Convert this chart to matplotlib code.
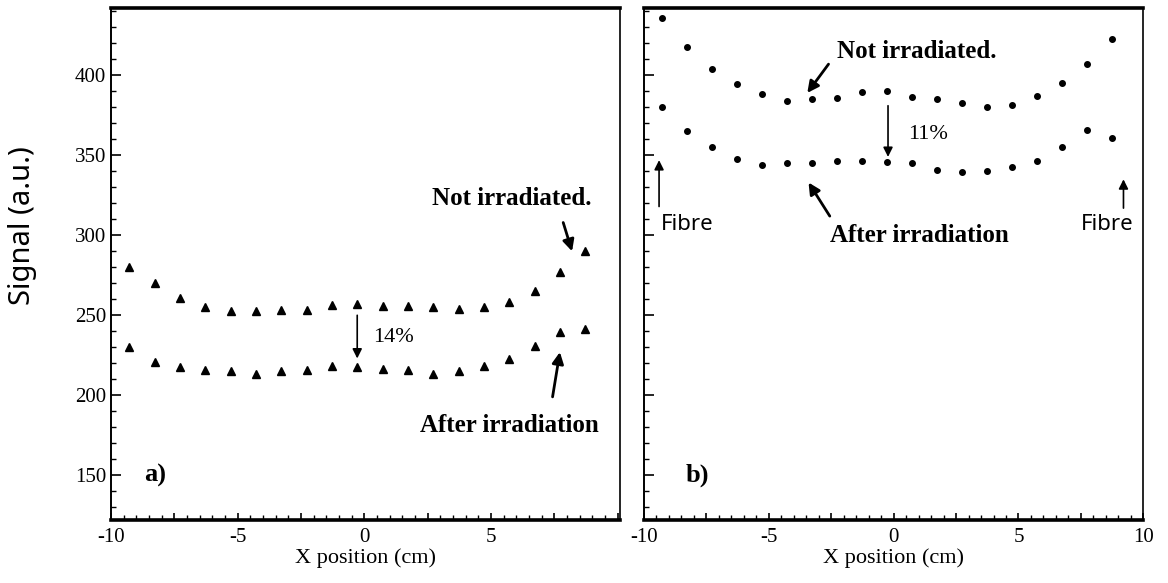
import matplotlib.pyplot as plt
from matplotlib.ticker import MultipleLocator

# scan positions along the bar (cm)
x_pos = [-9.27, -8.27, -7.27, -6.27, -5.27, -4.27, -3.27, -2.27, -1.27, -0.27,
         0.73, 1.73, 2.73, 3.73, 4.73, 5.73, 6.73, 7.73, 8.73]

# panel a)
a_not_irr = [280, 270, 260.5, 255, 252.5, 252.5, 253, 253, 256.5, 257,
             256, 256, 255, 254, 255, 258, 265, 277, 290]
a_after = [230, 221, 217.5, 216, 215, 213, 215, 216, 218.5, 217.5,
           216.5, 215.5, 213.5, 215, 218, 222.5, 231, 239.5, 241.5]

# panel b)
b_not_irr = [436, 418, 404, 394.5, 388.5, 384, 385, 386, 389.5, 390,
             386.5, 385, 383, 380.5, 381.5, 387, 395, 407, 423]
b_after = [380, 365, 355, 348, 344, 345, 345, 346.5, 346.5, 346,
           345.5, 341, 339.5, 340, 342.5, 346.5, 355.5, 366, 361]

y_ticks = [150, 200, 250, 300, 350, 400]
a_xticks = [-10, -5, 0, 5]
b_xticks = [-10, -5, 0, 5, 10]

SERIF = ['Liberation Serif', 'DejaVu Serif']
SANS = ['Noto Sans', 'DejaVu Sans']
plt.rcParams['font.family'] = SERIF

fig = plt.figure(figsize=(11.68, 5.83), dpi=100)
ax1 = fig.add_axes([0.095, 0.108, 0.436, 0.878])
ax2 = fig.add_axes([0.551, 0.108, 0.428, 0.878], sharey=ax1)


def style_axes(ax, xmax, labelled):
    ax.set_xlim(-10, xmax)
    ax.set_ylim(122, 442)
    # ticks every 2.5 cm, numbers only every 5 cm
    ticks = [-10, -7.5, -5, -2.5, 0, 2.5, 5, 7.5, 10]
    ax.set_xticks(ticks)
    ax.set_xticklabels(['%d' % t if t in labelled else '' for t in ticks])
    ax.xaxis.set_minor_locator(MultipleLocator(0.5))
    ax.yaxis.set_minor_locator(MultipleLocator(10))
    ax.tick_params(which='both', direction='in', top=False, right=False)
    ax.tick_params(which='major', length=7, width=1.2, labelsize=15)
    ax.tick_params(which='minor', length=3.5, width=1.0)
    ax.tick_params(axis='x', which='major', length=5, pad=6)
    ax.spines['bottom'].set_linewidth(2.6)
    ax.spines['top'].set_linewidth(2.6)
    ax.spines['left'].set_linewidth(1.4)
    ax.spines['right'].set_linewidth(1.2)
    ax.set_xlabel('X position (cm)', fontsize=16, labelpad=1)


style_axes(ax1, 10.1, a_xticks)
style_axes(ax2, 10.0, b_xticks)
ax1.set_yticks(y_ticks)
plt.setp(ax2.get_yticklabels(), visible=False)
ax1.set_ylabel('Signal (a.u.)', fontsize=21, family=SANS)
ax1.yaxis.set_label_coords(-0.145, 0.575)

# data points
ax1.plot(x_pos, a_not_irr, ls='none', marker='^', ms=6, color='k')
ax1.plot(x_pos, a_after, ls='none', marker='^', ms=6, color='k')
ax2.plot(x_pos, b_not_irr, ls='none', marker='o', ms=4, color='k')
ax2.plot(x_pos, b_after, ls='none', marker='o', ms=4, color='k')

bold_arrow = dict(arrowstyle='-|>', lw=2.0, color='k', mutation_scale=17,
                  shrinkA=0, shrinkB=0)
thin_arrow = dict(arrowstyle='-|>', lw=1.2, color='k', mutation_scale=14,
                  shrinkA=0, shrinkB=0)

# panel a) labels
ax1.text(8.95, 323, 'Not irradiated.', fontsize=18, fontweight='bold',
         ha='right', va='center')
ax1.annotate('', xy=(8.2, 290), xytext=(7.85, 308), arrowprops=bold_arrow)
ax1.annotate('', xy=(-0.28, 223), xytext=(-0.28, 250), arrowprops=thin_arrow)
ax1.text(0.35, 236, '14%', fontsize=16, ha='left', va='center')
ax1.text(9.25, 181, 'After irradiation', fontsize=18, fontweight='bold',
         ha='right', va='center')
ax1.annotate('', xy=(7.72, 227), xytext=(7.43, 199), arrowprops=bold_arrow)
ax1.text(-8.7, 150, 'a)', fontsize=19, fontweight='bold', ha='left', va='center')

# panel b) labels
ax2.text(-2.25, 415, 'Not irradiated.', fontsize=18, fontweight='bold',
         ha='left', va='center')
ax2.annotate('', xy=(-3.45, 389), xytext=(-2.6, 407), arrowprops=bold_arrow)
ax2.annotate('', xy=(-0.22, 349), xytext=(-0.22, 381), arrowprops=thin_arrow)
ax2.text(0.6, 363, '11%', fontsize=16, ha='left', va='center')
ax2.text(-2.55, 300, 'After irradiation', fontsize=18, fontweight='bold',
         ha='left', va='center')
ax2.annotate('', xy=(-3.4, 333), xytext=(-2.55, 312), arrowprops=bold_arrow)
ax2.text(-9.3, 307, 'Fibre', fontsize=16, family=SANS, ha='left', va='center')
ax2.annotate('', xy=(-9.38, 347), xytext=(-9.38, 318), arrowprops=thin_arrow)
ax2.text(9.6, 307, 'Fibre', fontsize=16, family=SANS, ha='right', va='center')
ax2.annotate('', xy=(9.2, 335), xytext=(9.2, 317), arrowprops=thin_arrow)
ax2.text(-8.3, 150, 'b)', fontsize=19, fontweight='bold', ha='left', va='center')

fig.savefig('out.png', dpi=100)
